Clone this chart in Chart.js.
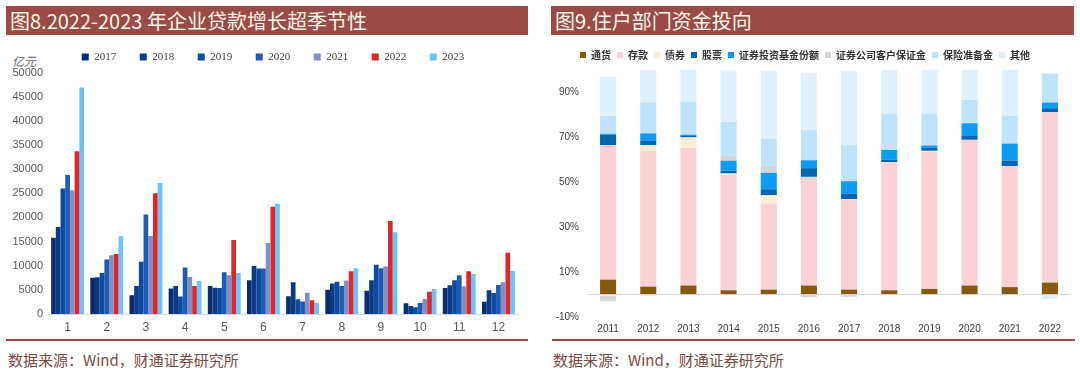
<!DOCTYPE html>
<html>
<head>
<meta charset="utf-8">
<script src="https://cdn.jsdelivr.net/npm/chart.js@4.4.1/dist/chart.umd.min.js"></script>
<style>
  body { margin: 0; width: 1080px; height: 370px; position: relative; overflow: hidden; background: #fff; font-family: "Noto Sans CJK SC", sans-serif; }
  .head { position: absolute; top: 6px; height: 29px; background: #9b4b45; color: #fdf6ea; font-size: 20px; line-height: 29px; padding-left: 4px; box-sizing: border-box; white-space: nowrap; }
  .rule { position: absolute; top: 339px; height: 2px; background: #9b4b45; }
  .src { position: absolute; top: 350px; font-size: 15px; line-height: 20px; color: #7d4a45; white-space: nowrap; }
  .wrap { position: absolute; width: 540px; }
  #unit { position: absolute; left: 12px; top: 52px; font-size: 12px; color: #666; font-style: italic; }
</style>
</head>
<body>
<div class="head" style="left:6px;width:522px">图8.2022-2023 年企业贷款增长超季节性</div>
<div class="head" style="left:551px;width:523px">图9.住户部门资金投向</div>
<div id="unit">亿元</div>
<div class="wrap" style="left:0;top:28px;height:306px"><canvas id="loans"></canvas></div>
<div class="wrap" style="left:540px;top:36px;height:300px"><canvas id="flows"></canvas></div>
<div class="rule" style="left:6px;width:522px"></div>
<div class="rule" style="left:552px;width:523px"></div>
<div class="src" style="left:8px">数据来源：Wind，财通证券研究所</div>
<div class="src" style="left:553px">数据来源：Wind，财通证券研究所</div>

<script>
// 图8：企业贷款（亿元），按月
const months = ["1", "2", "3", "4", "5", "6", "7", "8", "9", "10", "11", "12"];
const years = ["2017", "2018", "2019", "2020", "2021", "2022", "2023"];
const loans2017 = [15800, 7500, 3900, 5300, 5800, 7000, 3700, 5000, 4800, 2200, 5400, 2550];
const loans2018 = [18000, 7600, 5800, 5800, 5450, 9950, 6550, 6300, 7000, 1650, 5950, 4900];
const loans2019 = [26000, 8500, 10800, 3600, 5400, 9400, 3050, 6700, 10200, 1400, 7000, 4350];
const loans2020 = [28800, 11300, 20600, 9650, 8650, 9400, 2600, 5800, 9450, 2300, 8000, 6000];
const loans2021 = [25600, 12150, 16150, 7650, 8000, 14700, 4400, 6950, 9850, 3100, 5750, 6550];
const loans2022 = [33700, 12400, 25000, 5800, 15300, 22200, 2850, 8850, 19250, 4600, 8850, 12700];
const loans2023 = [46900, 16100, 27100, 6850, 8500, 22850, 2350, 9450, 16900, 5200, 8300, 8900];
const loanTicks = [0, 5000, 10000, 15000, 20000, 25000, 30000, 35000, 40000, 45000, 50000];

// 图9：住户部门资金投向（%），按年
const hhYears = ["2011", "2012", "2013", "2014", "2015", "2016", "2017", "2018", "2019", "2020", "2021", "2022"];
const cash = [6.6, 3.5, 4.0, 1.9, 2.2, 4.0, 2.2, 1.9, 2.5, 4.0, 3.3, 5.3];
const deposits = [60.0, 60.3, 61.3, 51.5, 38.2, 48.2, 40.0, 56.7, 61.3, 64.8, 53.8, 75.8];
const bonds = [-0.5, 2.8, 4.7, 0.5, 3.8, 0.2, 0.3, 0.3, 0.2, 0.1, 0.1, 0.1];
const stocks = [4.6, 1.8, 0.9, 1.3, 2.7, 3.9, 2.5, 1.1, 1.3, 2.0, 2.4, 1.8];
const funds = [0.4, 3.4, 0.3, 4.4, 7.3, 3.5, 5.5, 4.4, 1.1, 5.4, 7.6, 2.5];
const margin = [-2.4, -0.5, 0.1, 2.2, 3.1, -1.1, -1.0, 0.2, 0.4, 0.3, 0.3, 0.1];
const insurance = [7.9, 13.8, 14.4, 15.1, 12.1, 13.4, 16.0, 16.1, 13.9, 10.1, 12.2, 12.8];
const other = [17.6, 14.3, 14.3, 22.9, 30.3, 25.6, 32.9, 19.2, 19.2, 13.3, 20.3, -2.0];
const shareTicks = [-10, 10, 30, 50, 70, 90];

const loanSeries = [loans2017, loans2018, loans2019, loans2020, loans2021, loans2022, loans2023];
const yearColors = ["#0b2d6e", "#0b3a87", "#0d4ba3", "#1a5cb6", "#8090c4", "#e1252b", "#6cc4fb"];

// the legend sits a bit right of the canvas centre in the original
const nudgeLegend = {
  id: "nudgeLegend",
  afterLayout(chart) {
    chart.legend.left = 28;
  },
};

new Chart(document.getElementById("loans"), {
  type: "bar",
  data: {
    labels: months,
    datasets: years.map((y, i) => ({
      label: y,
      data: loanSeries[i],
      backgroundColor: yearColors[i],
      borderWidth: 0,
      categoryPercentage: 0.84,
      barPercentage: 1,
    })),
  },
  options: {
    responsive: true,
    maintainAspectRatio: false,
    animation: false,
    layout: { padding: { top: 0, right: 22, left: 0, bottom: 0 } },
    plugins: {
      legend: {
        labels: {
          boxWidth: 7,
          boxHeight: 7,
          padding: 23.5,
          color: "#404040",
          font: { family: "Liberation Serif", size: 11 },
        },
      },
      tooltip: { enabled: false },
    },
    scales: {
      x: {
        grid: { display: false, drawTicks: false },
        border: { color: "#d9d9d9" },
        ticks: { padding: 6, color: "#595959", font: { family: "Liberation Sans", size: 12 } },
        afterFit: (s) => { s.height = 20; },
      },
      y: {
        min: 0,
        max: 50000,
        grid: { display: false, drawTicks: false },
        border: { display: false },
        afterBuildTicks: (s) => { s.ticks = loanTicks.map((v) => ({ value: v })); },
        ticks: {
          padding: 5,
          color: "#595959",
          font: { family: "Liberation Sans", size: 11 },
          callback: (v) => String(v),
        },
        afterFit: (s) => { s.width = 48; },
      },
    },
  },
  plugins: [nudgeLegend],
});

const flowNames = ["通货", "存款", "债券", "股票", "证券投资基金份额", "证券公司客户保证金", "保险准备金", "其他"];
const flowSeries = [cash, deposits, bonds, stocks, funds, margin, insurance, other];
const flowColors = ["#87590f", "#f8d2d4", "#fdecd6", "#0466b0", "#0c9cf4", "#d3d7dc", "#c0e3fc", "#dff0fe"];

new Chart(document.getElementById("flows"), {
  type: "bar",
  data: {
    labels: hhYears,
    datasets: flowNames.map((n, i) => ({
      label: n,
      data: flowSeries[i],
      backgroundColor: flowColors[i],
      borderWidth: 0,
      categoryPercentage: 0.4,
      barPercentage: 1,
    })),
  },
  options: {
    responsive: true,
    maintainAspectRatio: false,
    animation: false,
    layout: { padding: { top: 8, right: 10, left: 0, bottom: 0 } },
    plugins: {
      legend: {
        labels: {
          boxWidth: 6,
          boxHeight: 6,
          padding: 6,
          color: "#333",
          font: { family: "Noto Sans CJK SC", size: 10, weight: "bold" },
        },
      },
      tooltip: { enabled: false },
    },
    scales: {
      x: {
        stacked: true,
        grid: { display: false, drawTicks: false },
        border: { display: false },
        ticks: { padding: 6, color: "#404040", font: { family: "Liberation Sans", size: 10 } },
        afterFit: (s) => { s.height = 19; },
      },
      y: {
        stacked: true,
        min: -10,
        max: 100,
        border: { display: false },
        grid: {
          drawTicks: false,
          color: (c) => (c.tick && c.tick.value === 0 ? "#d9d9d9" : "rgba(0,0,0,0)"),
        },
        afterBuildTicks: (s) => {
          s.ticks = [...shareTicks, 0].sort((a, b) => a - b).map((v) => ({ value: v }));
        },
        ticks: {
          padding: 9,
          color: "#404040",
          font: { family: "Liberation Sans", size: 10 },
          callback: (v) => (v === 0 ? "" : v + "%"),
        },
        afterFit: (s) => { s.width = 48; },
      },
    },
  },
});
</script>
</body>
</html>
